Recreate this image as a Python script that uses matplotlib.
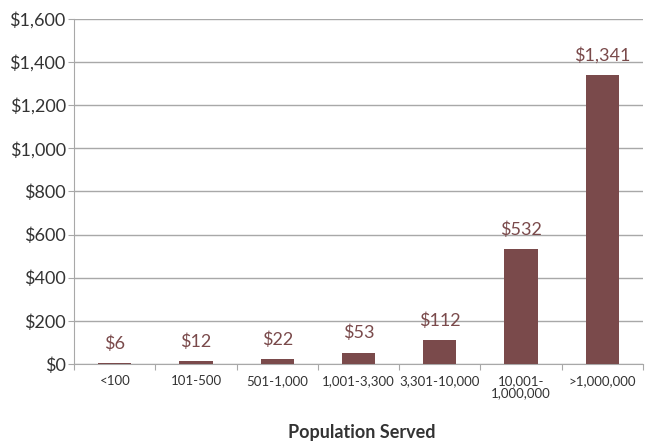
import matplotlib.pyplot as plt
import numpy as np

plt.rcParams['font.family'] = ['Lato', 'DejaVu Sans']

categorias = ['<100', '101-500', '501-1,000', '1,001-3,300', '3,301-10,000',
              '10,001-\n1,000,000', '>1,000,000']
custos = [6, 12, 22, 53, 112, 532, 1341]

cor_barra = '#7a4a4b'
cinza = '#a8a8a8'

fig = plt.figure(figsize=(6.62, 4.48), dpi=100)
ax = fig.add_axes([0.112, 0.1875, 0.859, 0.7705])

x = np.arange(len(categorias))
ax.bar(x, custos, width=0.41, color=cor_barra, zorder=3)

# rotulos de valor por cima das barras
for xi, v in zip(x, custos):
    ax.annotate('${:,}'.format(v), (xi, v), xytext=(0, 8), textcoords='offset points',
                ha='center', va='bottom', fontsize=13, color=cor_barra)

ax.set_xlim(-0.5, len(categorias) - 0.5)
ax.set_ylim(0, 1600)
ax.set_yticks(np.arange(0, 1601, 200))
ax.set_yticklabels(['${:,}'.format(t) for t in range(0, 1601, 200)], fontsize=13, color='#333333')
ax.yaxis.grid(True, color=cinza, linewidth=1, zorder=0)

# marcas nos limites das categorias, rotulos no centro
ax.set_xticks(np.arange(len(categorias) + 1) - 0.5)
ax.set_xticklabels([])
ax.set_xticks(x, minor=True)
ax.set_xticklabels(categorias, minor=True, fontsize=9.5, color='#333333', linespacing=1.0)
ax.tick_params(axis='x', which='major', length=4, color=cinza)
ax.tick_params(axis='x', which='minor', length=0, pad=8)
ax.tick_params(axis='y', length=4, color=cinza, pad=2)

for lado in ['top', 'right']:
    ax.spines[lado].set_visible(False)
for lado in ['left', 'bottom']:
    ax.spines[lado].set_color(cinza)

fig.text(0.546, 0.022, 'Population Served', ha='center', fontsize=13,
         fontweight='bold', color='#333333')

fig.savefig('out.png', dpi=100)
